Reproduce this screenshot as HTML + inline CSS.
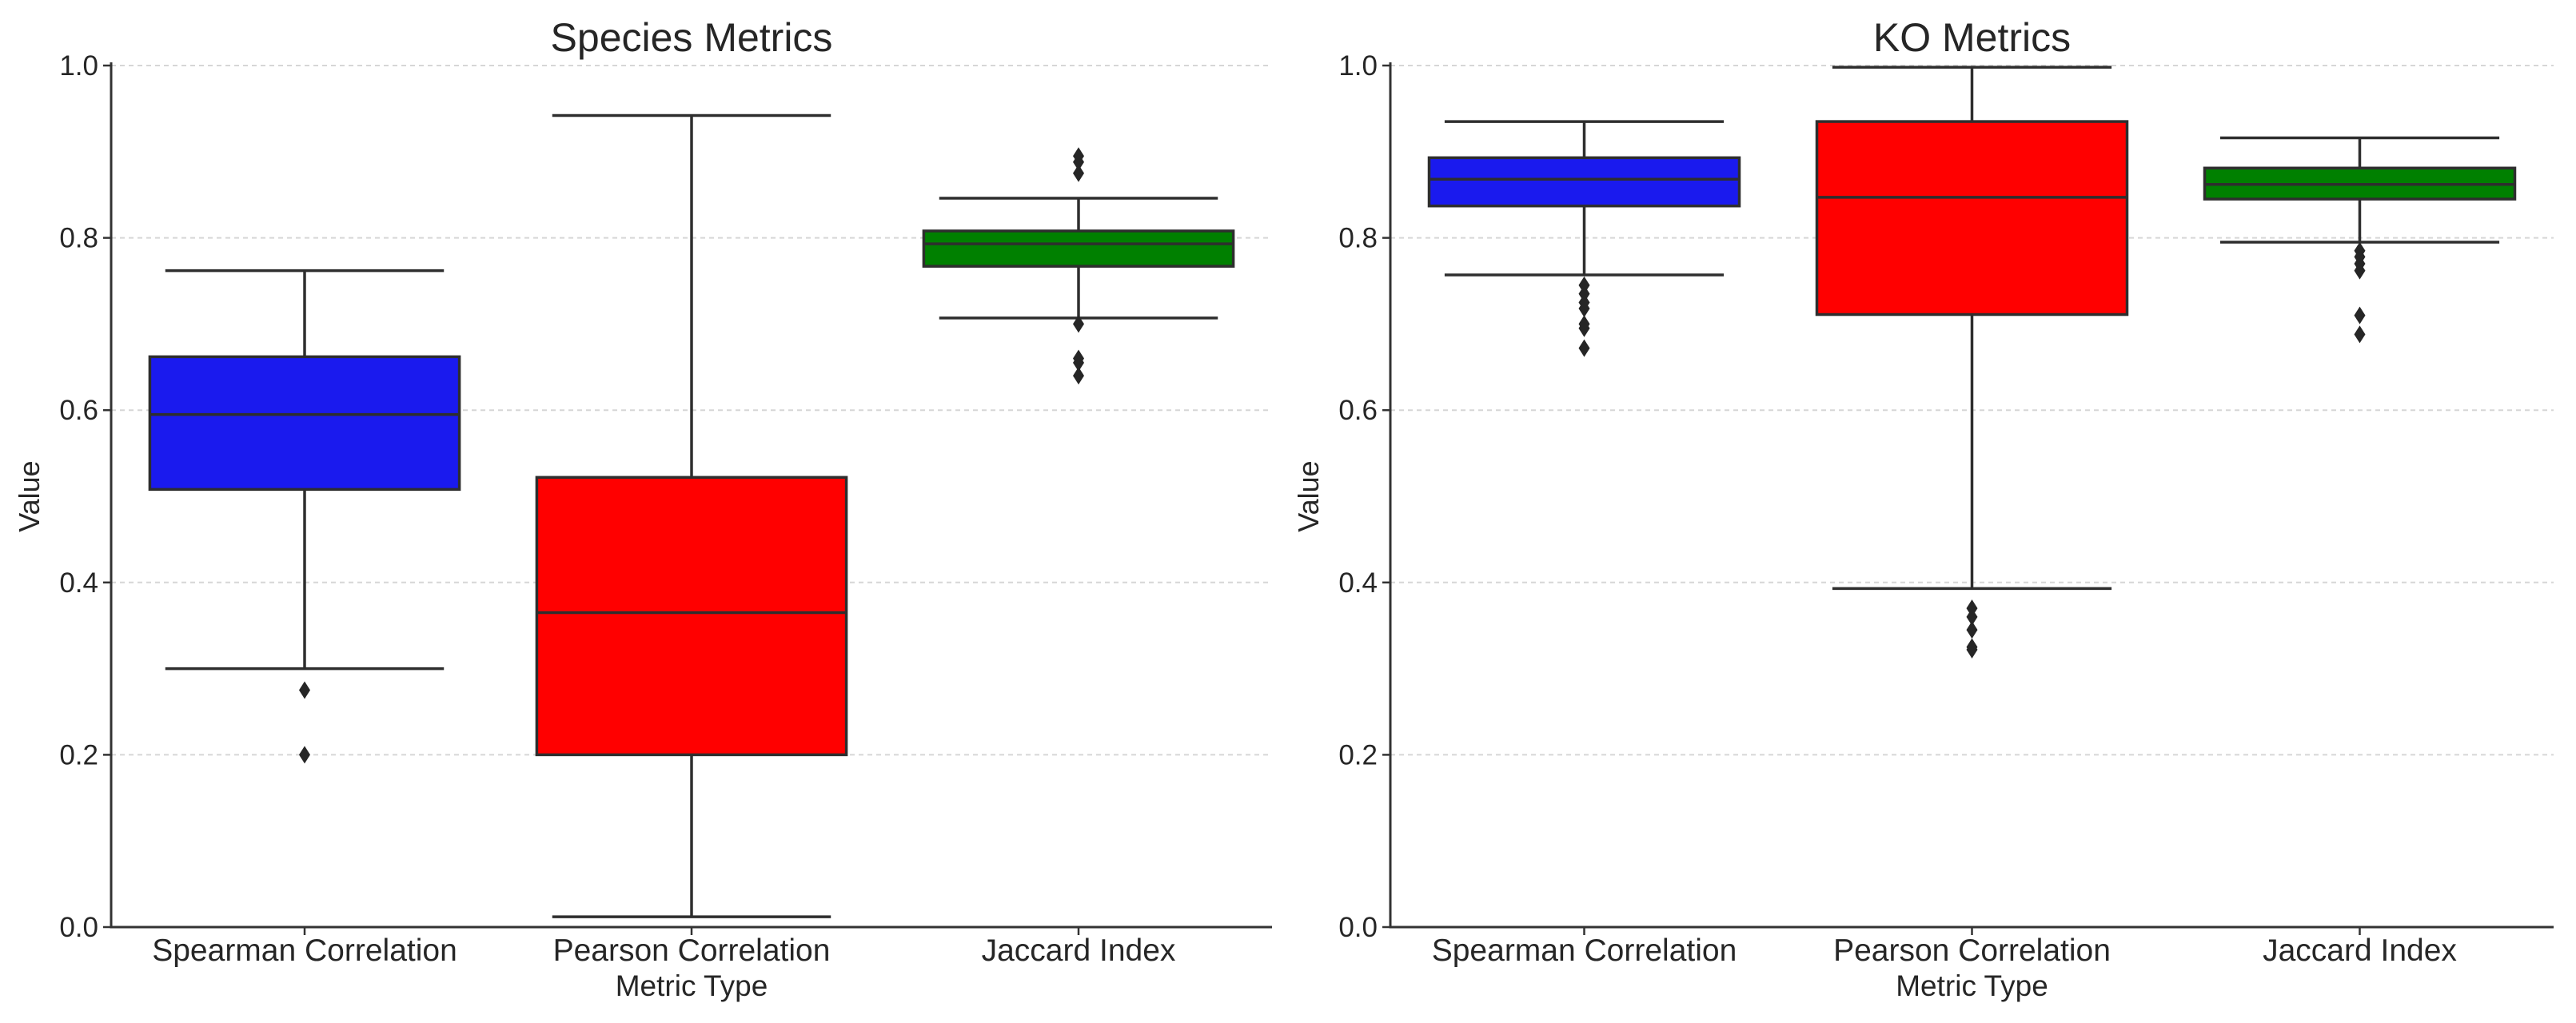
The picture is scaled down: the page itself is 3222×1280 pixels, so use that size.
<!DOCTYPE html>
<html><head><meta charset="utf-8"><style>
html,body{margin:0;padding:0;background:#fff;overflow:hidden;}
svg{display:block;font-family:"Liberation Sans","DejaVu Sans",sans-serif;}
</style></head><body>
<svg id="fig" width="3222" height="1280" viewBox="0 0 3222 1280" xmlns="http://www.w3.org/2000/svg"></svg>
<script>
const categories = ["Spearman Correlation","Pearson Correlation","Jaccard Index"];
const yTicks = [0.0,0.2,0.4,0.6,0.8,1.0];
const yTickLabels = ["0.0","0.2","0.4","0.6","0.8","1.0"];
const colors = ["#1a1aee","#ff0000","#008000"];
// Species: [whisLo, q1, median, q3, whisHi]
const speciesStats = [[0.300,0.508,0.595,0.662,0.762],[0.012,0.200,0.365,0.522,0.942],[0.707,0.767,0.793,0.808,0.846]];
const speciesOutliers = [[0.275,0.200],[],[0.700,0.660,0.655,0.640,0.875,0.888,0.895]];
const koStats = [[0.757,0.837,0.868,0.893,0.935],[0.393,0.711,0.847,0.935,0.998],[0.795,0.845,0.862,0.881,0.916]];
const koOutliers = [[0.745,0.735,0.725,0.718,0.700,0.695,0.672],[0.370,0.360,0.345,0.325,0.322],[0.785,0.778,0.770,0.762,0.710,0.688]];

const NS="http://www.w3.org/2000/svg";
const svg=document.getElementById('fig');
function mk(tag,attrs,parent){const e=document.createElementNS(NS,tag);for(const k in attrs)e.setAttribute(k,attrs[k]);(parent||svg).appendChild(e);return e;}

function panel(name,title,x0,x1,stats,outliers){
  const yTop=82,yBot=1160;
  const g=mk('g',{});
  
  
  const ys=v=>yBot-(v)*(yBot-yTop);
  const band=(x1-x0)/3;
  const xc=i=>x0+band*(i+0.5);
  const boxW=band*0.8, capW=band*0.36;
  yTicks.forEach((t,i)=>{
    if(t>0){const gl=mk('line',{x1:x0,x2:x1,y1:ys(t),y2:ys(t),stroke:'#d6d6d6','stroke-width':2,'stroke-dasharray':'6,5'},g);
    
    }
    const tk=mk('line',{x1:x0-10,x2:x0,y1:ys(t),y2:ys(t),stroke:'#333','stroke-width':2.5},g);
    
    
    const tl=mk('text',{x:x0-16,y:ys(t)+12,'text-anchor':'end','font-size':35,fill:'#262626'},g);
    tl.textContent=yTickLabels[i];
    
    
  });
  categories.forEach((c,i)=>{
    const s=stats[i],cx=xc(i),col='#2e2e2e';
    const b=mk('g',{},g);
    
    
    mk('line',{x1:cx,x2:cx,y1:ys(s[0]),y2:ys(s[1]),stroke:col,'stroke-width':3.5},b);
    mk('line',{x1:cx,x2:cx,y1:ys(s[3]),y2:ys(s[4]),stroke:col,'stroke-width':3.5},b);
    mk('line',{x1:cx-capW,x2:cx+capW,y1:ys(s[0]),y2:ys(s[0]),stroke:col,'stroke-width':3.5},b);
    mk('line',{x1:cx-capW,x2:cx+capW,y1:ys(s[4]),y2:ys(s[4]),stroke:col,'stroke-width':3.5},b);
    mk('rect',{x:cx-boxW/2,y:ys(s[3]),width:boxW,height:ys(s[1])-ys(s[3]),fill:colors[i],stroke:col,'stroke-width':3.5},b);
    mk('line',{x1:cx-boxW/2,x2:cx+boxW/2,y1:ys(s[2]),y2:ys(s[2]),stroke:col,'stroke-width':3.5},b);
    outliers[i].forEach(v=>{
      const y=ys(v);
      const p=mk('path',{d:`M${cx} ${y-11}L${cx+7} ${y}L${cx} ${y+11}L${cx-7} ${y}Z`,fill:'#262626'},b);
      
      
    });
    const tk=mk('line',{x1:cx,x2:cx,y1:yBot,y2:yBot+10,stroke:'#333','stroke-width':2.5},g);
    
    
    const tl=mk('text',{x:cx,y:yBot+42,'text-anchor':'middle','font-size':39,fill:'#262626'},g);
    tl.textContent=c;
    
    
  });
  const ax=mk('path',{d:`M${x0} ${yTop-4}V${yBot}H${x1}`,fill:'none',stroke:'#333','stroke-width':3},g);
  
  
  const t=mk('text',{x:(x0+x1)/2,y:64,'text-anchor':'middle','font-size':50,fill:'#262626'},g);
  t.textContent=title;
  
  
  const xl=mk('text',{x:(x0+x1)/2,y:yBot+86,'text-anchor':'middle','font-size':37,fill:'#262626'},g);
  xl.textContent='Metric Type';
  
  
  const yl=mk('text',{x:0,y:0,'text-anchor':'middle','font-size':36,fill:'#262626',transform:`translate(${x0-90},${(yTop+yBot)/2}) rotate(-90)`},g);
  yl.textContent='Value';
  
  
}
panel('species-metrics-panel','Species Metrics',139,1591,speciesStats,speciesOutliers);
panel('ko-metrics-panel','KO Metrics',1739,3194,koStats,koOutliers);
</script>
</body></html>
